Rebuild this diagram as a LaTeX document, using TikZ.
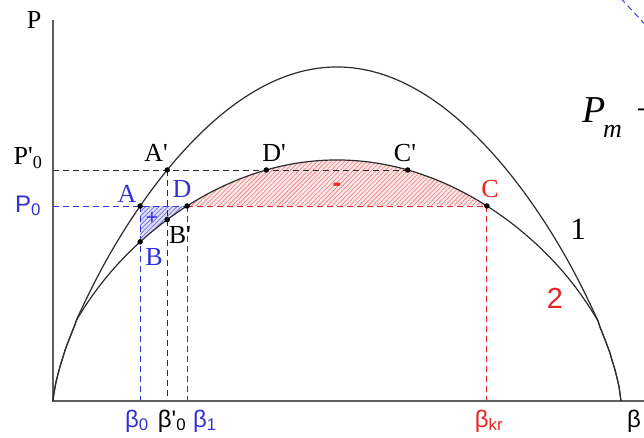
\documentclass[tikz,border=0pt]{standalone}
\usepackage{fontspec}
\setmainfont{Liberation Serif}
\setsansfont{Liberation Sans}
\usetikzlibrary{patterns.meta}
\definecolor{loadblue}{RGB}{50,50,215}
\definecolor{loadred}{RGB}{232,36,36}
\definecolor{curveink}{RGB}{45,45,45}
\definecolor{axisink}{RGB}{95,95,95}
\colorlet{hatchred}{loadred!55}
\colorlet{hatchblue}{loadblue!70}

\begin{document}
\begin{tikzpicture}[x=1pt, y=-1pt,
  declare function={
    bx(\t)=53+568*\t;
    cone(\t)=401-334*pow(sin(180*\t),0.7);
    ctwo(\t)=max(401-241*pow(sin(180*\t),0.54),cone(\t));
  },
  axis/.style={line width=1.4pt, draw=axisink},
  curve/.style={line width=1.2pt, draw=curveink},
  guide/.style={line width=0.9pt, dash pattern=on 6pt off 4pt},
  dot/.style={circle, fill=black, inner sep=0pt, minimum size=5.5pt},
  ptlabel/.style={font=\fontsize{26}{26}\selectfont, inner sep=0pt, anchor=base},
  betalabel/.style={font=\sffamily\fontsize{24}{24}\selectfont, inner sep=0pt, anchor=base},
  gain/.style={preaction={fill=loadblue!16},
    pattern={Lines[angle=45,distance=3.2pt,line width=0.75pt]}, pattern color=hatchblue},
  loss/.style={preaction={fill=loadred!10},
    pattern={Lines[angle=45,distance=3.2pt,line width=0.75pt]}, pattern color=hatchred}
]

% ---------- Frame ----------
\path[use as bounding box, clip] (0,0) rectangle (644,438);
\fill[white] (0,0) rectangle (644,438);

% ---------- Geometry ----------
\pgfmathsetmacro{\tA}{asin(pow(195/334,1/0.7))/180}
\pgfmathsetmacro{\tAp}{asin(pow(231/334,1/0.7))/180}
\pgfmathsetmacro{\tD}{asin(pow(195/241,1/0.54))/180}
\pgfmathsetmacro{\tDp}{asin(pow(231/241,1/0.54))/180}
\pgfmathsetmacro{\tC}{1-\tD}
\pgfmathsetmacro{\tCp}{1-\tDp}

\coordinate (O) at (53,401);
\coordinate (Ytop) at (53,20);
\coordinate (Xend) at (660,401);
\coordinate (E) at (621,401);
\coordinate (P0) at (53,206);
\coordinate (P0p) at (53,170);
\coordinate (A) at ({bx(\tA)},206);
\coordinate (Ap) at ({bx(\tAp)},170);
\coordinate (B) at ({bx(\tA)},{ctwo(\tA)});
\coordinate (Bp) at ({bx(\tAp)},{ctwo(\tAp)});
\coordinate (D) at ({bx(\tD)},206);
\coordinate (Dp) at ({bx(\tDp)},170);
\coordinate (C) at ({bx(\tC)},206);
\coordinate (Cp) at ({bx(\tCp)},170);
\coordinate (cutA) at (614,-9);
\coordinate (cutB) at (653,33);

% ---------- Areas ----------
\fill[gain] (A) -- (B) -- plot[domain=\tA:\tD, samples=30] ({bx(\x)},{ctwo(\x)}) -- cycle;
\fill[loss] (D) -- plot[domain=\tD:\tC, samples=90] ({bx(\x)},{ctwo(\x)}) -- cycle;

% ---------- Guides ----------
\draw[guide, draw=curveink] (P0p) -- (Cp);
\draw[guide, draw=loadblue] (P0) -- (D);
\draw[guide, draw=loadred] (D) -- (C);
\draw[guide, draw=loadblue] (A) -- (A |- O);
\draw[guide, draw=curveink] (Ap) -- (Ap |- O);
\draw[guide, draw=loadblue] (D) -- (D |- O);
\draw[guide, draw=loadred] (C) -- (C |- O);
\draw[guide, draw=loadblue] (cutA) -- (cutB);

% ---------- Axes + curves ----------
\draw[axis] (Ytop) -- (O) -- (Xend);
\draw[curve] (O) -- plot[domain=0.0005:0.9995, samples=241] ({bx(\x)},{cone(\x)}) -- (E);
\draw[curve] (O) -- plot[domain=0.0005:0.9995, samples=241] ({bx(\x)},{ctwo(\x)}) -- (E);

% ---------- Points ----------
\foreach \p in {A,Ap,B,Bp,C,Cp,D,Dp}
  \node[dot] (dot\p) at (\p) {};

% ---------- Labels ----------
\node[ptlabel] (labP) at (34,29) {P};
\node[ptlabel] (labP0p) at (28,165) {P\textquotesingle\textsubscript{0}};
\node[ptlabel, font=\sffamily\fontsize{24}{24}\selectfont, text=loadblue] (labP0) at (28,212) {P\textsubscript{0}};
\node[ptlabel] (labAp) at (156,162) {A\textquotesingle};
\node[ptlabel, text=loadblue] (labA) at (127,203) {A};
\node[ptlabel, text=loadblue] (labD) at (182,198) {D};
\node[ptlabel] (labBp) at (180,243) {B\textquotesingle};
\node[ptlabel, text=loadblue] (labB) at (154,265) {B};
\node[ptlabel] (labDp) at (274,162) {D\textquotesingle};
\node[ptlabel] (labCp) at (405,162) {C\textquotesingle};
\node[ptlabel, text=loadred] (labC) at (490,197) {C};
\node[ptlabel, font=\fontsize{31}{31}\selectfont] (lab1) at (578,239) {1};
\node[ptlabel, font=\sffamily\fontsize{29}{29}\selectfont, text=loadred] (lab2) at (555,308) {2};
\node[ptlabel, font=\sffamily\fontsize{21}{21}\selectfont, text=loadblue] (labPlus) at (152,224) {+};
\node[ptlabel, font=\sffamily\bfseries\fontsize{26}{26}\selectfont, text=loadred] (labMinus) at (337,192) {-};

\node[betalabel, text=loadblue] (labB0) at (137,427) {β\textsubscript{0}};
\node[betalabel] (labB0p) at (172,427) {β\textquotesingle\textsubscript{0}};
\node[betalabel, text=loadblue] (labB1) at (205,427) {β\textsubscript{1}};
\node[betalabel, text=loadred] (labBkr) at (489,427) {β\textsubscript{kr}};
\node[betalabel, anchor=base west] (labBeta) at (627,427) {β};

\node[ptlabel, anchor=base west, font=\itshape\fontsize{38}{38}\selectfont] (labPm) at (582,123) {P};
\node[ptlabel, anchor=base west, font=\itshape\fontsize{26}{26}\selectfont] (labm) at (603,138) {m};
\node[ptlabel, anchor=base west, font=\fontsize{38}{38}\selectfont] (labDash) at (636,123) {−};

\end{tikzpicture}
\end{document}
